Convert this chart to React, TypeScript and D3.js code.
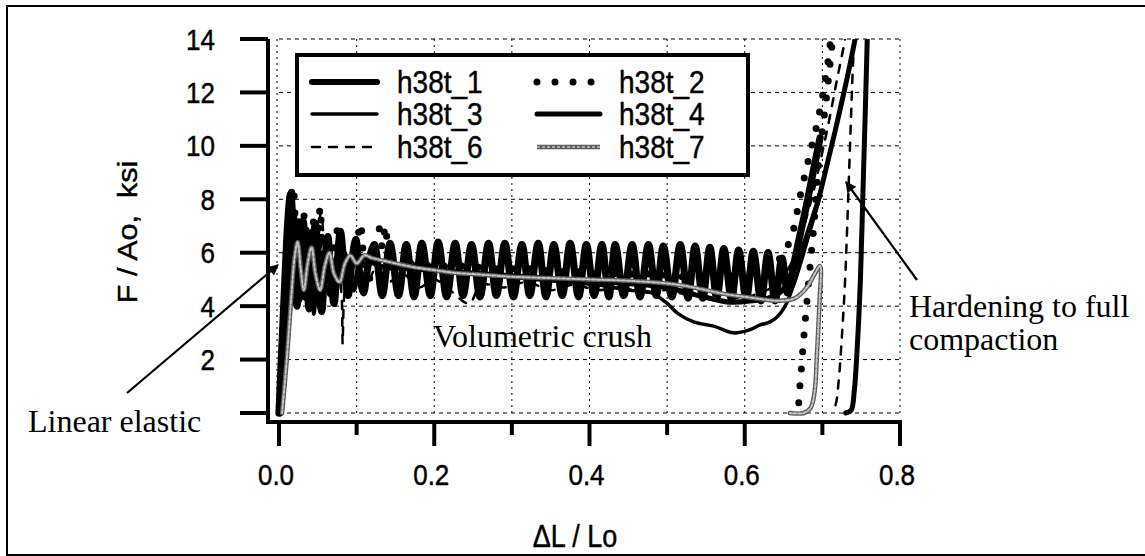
import React from 'react';
import * as d3 from 'd3';

const W = 1145;
const H = 556;

// axis ticks
const yTicks = [0, 2, 4, 6, 8, 10, 12, 14];
const xTicks = [0, 0.1, 0.2, 0.3, 0.4, 0.5, 0.6, 0.7, 0.8];
const xMajor = [0, 0.2, 0.4, 0.6, 0.8];

// F/Ao (ksi) vs dL/Lo
const h38t_1: [number, number][] = [
  [0.000, 0.0], [0.003, 2.0], [0.007, 4.6], [0.011, 7.0], [0.015, 8.2], [0.019, 6.4], [0.023, 4.0],
  [0.027, 5.6], [0.031, 7.2], [0.035, 5.4], [0.039, 3.9], [0.043, 5.8], [0.047, 7.1], [0.051, 5.2],
  [0.055, 3.8], [0.059, 5.5], [0.063, 6.6], [0.067, 5.0], [0.071, 4.1], [0.075, 5.6], [0.079, 6.8],
  [0.084, 5.4], [0.089, 4.4], [0.094, 5.7], [0.099, 6.5], [0.104, 5.2], [0.109, 4.5], [0.114, 5.4],
  [0.123, 6.3], [0.133, 4.4], [0.143, 6.35], [0.154, 4.4], [0.164, 6.3], [0.174, 4.35], [0.184, 6.35],
  [0.195, 4.4], [0.205, 6.4], [0.216, 4.35], [0.227, 6.35], [0.237, 4.4], [0.248, 6.3], [0.259, 4.35],
  [0.270, 6.35], [0.280, 4.4], [0.291, 6.35], [0.302, 4.35], [0.313, 6.3], [0.323, 4.4], [0.334, 6.35],
  [0.344, 4.35], [0.354, 6.3], [0.365, 4.4], [0.375, 6.35], [0.386, 4.35], [0.396, 6.3], [0.406, 4.4],
  [0.416, 6.3], [0.425, 4.35], [0.433, 6.3], [0.444, 4.4], [0.455, 6.3], [0.465, 4.35], [0.476, 6.3],
  [0.486, 4.4], [0.495, 6.25], [0.506, 4.35], [0.517, 6.3], [0.527, 4.3], [0.536, 6.25], [0.546, 4.3],
  [0.555, 6.2], [0.564, 4.3], [0.573, 6.15], [0.583, 4.25], [0.592, 6.1], [0.602, 4.25], [0.611, 6.05],
  [0.621, 4.2], [0.630, 6.0], [0.639, 4.2], [0.648, 5.8], [0.655, 4.5], [0.662, 5.4], [0.670, 6.5],
  [0.679, 7.7], [0.688, 9.0], [0.697, 10.3],
];

const h38t_2: [number, number][] = [
  [0.001, 0.0], [0.005, 2.2], [0.010, 5.2], [0.014, 7.6], [0.018, 8.5], [0.022, 6.6], [0.026, 4.6],
  [0.029, 6.0], [0.032, 7.4], [0.036, 5.6], [0.040, 4.4], [0.045, 7.3], [0.049, 5.6], [0.053, 7.7],
  [0.058, 5.0], [0.063, 4.5], [0.069, 5.8], [0.077, 7.0], [0.082, 5.4], [0.088, 4.8], [0.095, 5.9],
  [0.101, 6.5], [0.105, 7.1], [0.110, 5.6], [0.116, 5.0], [0.122, 6.2], [0.129, 6.9], [0.133, 6.2],
  [0.137, 7.0], [0.142, 5.8], [0.150, 5.4], [0.170, 5.6], [0.200, 5.5], [0.240, 5.5], [0.280, 5.4],
  [0.320, 5.4], [0.360, 5.3], [0.400, 5.3], [0.440, 5.2], [0.480, 5.2], [0.520, 5.1], [0.560, 5.1],
  [0.600, 5.2], [0.630, 5.4], [0.648, 5.9], [0.660, 6.6], [0.672, 8.2], [0.683, 9.6], [0.693, 10.8],
  [0.701, 12.0], [0.707, 13.1], [0.712, 14.3], [0.716, 15.0], [0.706, 12.0], [0.696, 9.6],
  [0.689, 7.0], [0.682, 4.8], [0.676, 2.8], [0.671, 1.0], [0.668, 0.2], [0.662, 0.0],
];

const h38t_3: [number, number][] = [
  [0.002, 0.0], [0.007, 2.2], [0.012, 4.6], [0.016, 6.6], [0.020, 7.6], [0.024, 6.0], [0.028, 4.2],
  [0.033, 5.8], [0.037, 6.9], [0.041, 5.4], [0.045, 3.7], [0.050, 5.5], [0.056, 6.6], [0.062, 5.2],
  [0.068, 4.6], [0.074, 5.6], [0.080, 6.1], [0.088, 5.2], [0.095, 5.6], [0.105, 5.9], [0.120, 5.6],
  [0.150, 5.4], [0.180, 5.6], [0.210, 5.3], [0.250, 5.2], [0.290, 5.1], [0.330, 5.0], [0.370, 4.9],
  [0.410, 4.8], [0.450, 4.6], [0.480, 4.5], [0.500, 4.1], [0.515, 3.7], [0.535, 3.4], [0.560, 3.25],
  [0.585, 3.0], [0.605, 3.1], [0.620, 3.3], [0.632, 3.4], [0.642, 3.6], [0.652, 4.0], [0.662, 4.7],
  [0.672, 5.6], [0.682, 6.6], [0.690, 7.4], [0.697, 8.1],
];

const h38t_4: [number, number][] = [
  [0.003, 0.0], [0.010, 2.4], [0.016, 4.8], [0.021, 6.6], [0.025, 7.2], [0.029, 5.6], [0.033, 4.3],
  [0.038, 6.2], [0.042, 6.8], [0.047, 5.0], [0.052, 4.0], [0.057, 5.8], [0.062, 6.3], [0.067, 5.1],
  [0.072, 4.3], [0.078, 5.5], [0.084, 6.0], [0.090, 5.0], [0.096, 4.6], [0.103, 5.5], [0.110, 5.8],
  [0.130, 5.5], [0.170, 5.4], [0.220, 5.3], [0.270, 5.2], [0.320, 5.1], [0.370, 5.0], [0.420, 4.9],
  [0.470, 4.8], [0.500, 4.7], [0.540, 4.4], [0.580, 4.15], [0.610, 4.2], [0.630, 4.3], [0.645, 4.5],
  [0.658, 5.0], [0.670, 5.8], [0.683, 6.9], [0.695, 8.0], [0.706, 9.3], [0.716, 10.5], [0.727, 11.9],
  [0.736, 13.1], [0.744, 14.3], [0.750, 15.5], [0.759, 15.5], [0.758, 14.2], [0.755, 11.0],
  [0.752, 8.0], [0.749, 5.0], [0.745, 2.5], [0.741, 0.8], [0.737, 0.1], [0.730, 0.0],
];

const h38t_6: [number, number][] = [
  [0.000, 0.0], [0.004, 2.0], [0.009, 4.5], [0.013, 6.4], [0.017, 7.8], [0.021, 6.2], [0.025, 4.4],
  [0.030, 6.3], [0.034, 7.0], [0.039, 5.0], [0.044, 4.2], [0.049, 6.0], [0.054, 7.5], [0.059, 6.0],
  [0.064, 4.4], [0.070, 5.6], [0.075, 6.4], [0.079, 5.0], [0.081, 4.2], [0.082, 2.6], [0.084, 4.4],
  [0.090, 5.6], [0.097, 6.2], [0.104, 5.3], [0.112, 4.8], [0.125, 5.4], [0.140, 4.9], [0.160, 5.2],
  [0.180, 4.7], [0.200, 5.0], [0.220, 4.6], [0.245, 4.1], [0.260, 4.8], [0.290, 4.7], [0.320, 4.9],
  [0.350, 4.6], [0.380, 4.8], [0.410, 4.6], [0.440, 4.7], [0.470, 4.5], [0.500, 4.6], [0.530, 4.4],
  [0.560, 4.5], [0.590, 4.3], [0.620, 4.5], [0.640, 4.8], [0.658, 5.5], [0.672, 6.6], [0.686, 8.0],
  [0.698, 9.5], [0.709, 11.0], [0.719, 12.5], [0.728, 13.8], [0.734, 14.8], [0.740, 15.2],
  [0.741, 14.5], [0.738, 12.0], [0.735, 9.5], [0.732, 7.0], [0.729, 4.8], [0.725, 2.8], [0.721, 1.2],
  [0.717, 0.3], [0.712, 0.0],
];

const h38t_7: [number, number][] = [
  [0.004, 0.0], [0.010, 2.0], [0.016, 4.4], [0.020, 5.8], [0.024, 6.4], [0.028, 5.4], [0.032, 4.6],
  [0.037, 5.6], [0.042, 6.2], [0.047, 5.2], [0.053, 4.6], [0.059, 5.5], [0.065, 6.0], [0.071, 5.2],
  [0.078, 4.9], [0.085, 5.6], [0.092, 5.9], [0.100, 5.6], [0.110, 5.9], [0.120, 5.8], [0.135, 5.7],
  [0.150, 5.6], [0.175, 5.45], [0.200, 5.35], [0.225, 5.25], [0.250, 5.2], [0.275, 5.15], [0.300, 5.1],
  [0.350, 5.05], [0.400, 5.0], [0.450, 4.95], [0.500, 4.85], [0.525, 4.75], [0.550, 4.6], [0.575, 4.45],
  [0.600, 4.35], [0.625, 4.25], [0.645, 4.2], [0.665, 4.3], [0.680, 4.7], [0.690, 5.2], [0.697, 5.5],
  [0.696, 4.0], [0.693, 2.2], [0.690, 0.8], [0.685, 0.2], [0.676, 0.0], [0.658, 0.0],
];

const sans = '"Liberation Sans", Arial, sans-serif';
const serif = '"Liberation Serif", "Times New Roman", serif';
const stretch = 1.13; // sans text in the scan is a little taller than wide

type LineStyle = { width: number; plotWidth?: number; dash?: string; cap?: 'round' | 'butt'; gray?: boolean };

const styles: Record<string, LineStyle> = {
  h38t_1: { width: 6, plotWidth: 7.2 },
  h38t_2: { width: 7, dash: '0 17', cap: 'round' },
  h38t_3: { width: 3.5 },
  h38t_4: { width: 5 },
  h38t_6: { width: 2.5, dash: '8 9' },
  h38t_7: { width: 4.5, gray: true },
};

const x = d3.scaleLinear().domain([0, 0.8]).range([279, 900]);
const y = d3.scaleLinear().domain([0, 14]).range([413, 39]);

const osc = d3.line<[number, number]>().x(d => x(d[0])).y(d => y(d[1])).curve(d3.curveMonotoneX);
const smooth = d3.line<[number, number]>().x(d => x(d[0])).y(d => y(d[1])).curve(d3.curveCatmullRom.alpha(0.5));

function Series({ name, data, gen }: { name: string; data: [number, number][]; gen: typeof osc }) {
  const s = styles[name];
  const d = gen(data) || '';
  if (s.gray) {
    return (
      <g fill="none" strokeLinejoin="round" strokeLinecap="round">
        <path d={d} stroke="#5a5a5a" strokeWidth={s.width} />
        <path d={d} stroke="#c4c4c4" strokeWidth={2} strokeDasharray="3 2" />
      </g>
    );
  }
  return (
    <path d={d} fill="none" stroke="#000" strokeWidth={s.plotWidth || s.width}
      strokeDasharray={s.dash} strokeLinecap={s.cap || 'round'} strokeLinejoin="round" />
  );
}

function LegendSample({ name, x1, x2, yy }: { name: string; x1: number; x2: number; yy: number }) {
  const s = styles[name];
  if (s.gray) {
    return (
      <g>
        <line x1={x1} x2={x2} y1={yy} y2={yy} stroke="#5a5a5a" strokeWidth={s.width} />
        <line x1={x1} x2={x2} y1={yy} y2={yy} stroke="#c4c4c4" strokeWidth={1.5} strokeDasharray="3 2" />
      </g>
    );
  }
  return <line x1={x1} x2={x2} y1={yy} y2={yy} stroke="#000" strokeWidth={s.width}
    strokeDasharray={s.dash === '0 17' ? '0 18' : s.dash} strokeLinecap={s.cap || 'round'} />;
}

// sans text, stretched vertically like the scanned original
function SText({ x: tx, y: ty, anchor, size, children, dy }:
  { x: number; y: number; anchor?: string; size: number; children: React.ReactNode; dy?: string }) {
  return (
    <text transform={`translate(${tx},${ty}) scale(1,${stretch})`} textAnchor={anchor} dy={dy}
      fontFamily={sans} fontSize={size} fill="#000" stroke="#000" strokeWidth={0.4}>{children}</text>
  );
}

const legendCols = [['h38t_1', 'h38t_3', 'h38t_6'], ['h38t_2', 'h38t_4', 'h38t_7']];
const legendRows = [82, 114, 147];

export default function App() {
  const x0 = x(0), x1 = x(0.8), yTop = y(14), yBot = y(0);
  const axisX = 268, axisY = 422;

  return (
    <svg width={W} height={H} style={{ position: 'absolute', left: 0, top: 0, background: '#fff' }}>
      <defs>
        <clipPath id="plot">
          <rect x={x0 - 10} y={yTop} width={x1 - x0 + 10} height={yBot - yTop + 8} />
        </clipPath>
        <marker id="arrow" viewBox="0 0 10 10" refX={9} refY={5} markerWidth={7} markerHeight={5}
          orient="auto" markerUnits="strokeWidth">
          <path d="M0,0 L10,5 L0,10 z" fill="#000" />
        </marker>
      </defs>

      {/* outer frame */}
      <rect x={7} y={6} width={1160} height={549} fill="none" stroke="#000" strokeWidth={2} />

      {/* grid */}
      <g stroke="#000" strokeWidth={1}>
        {yTicks.map(t => (
          <line key={'gy' + t} x1={x0} x2={x1} y1={y(t)} y2={y(t)} strokeDasharray="4 4" />
        ))}
        {xTicks.map(t => (
          <line key={'gx' + t} x1={x(t) - (t === 0 ? 2 : 0)} x2={x(t) - (t === 0 ? 2 : 0)} y1={yTop} y2={yBot}
            strokeDasharray="2 4" />
        ))}
      </g>

      {/* data */}
      <g clipPath="url(#plot)">
        <Series name="h38t_6" data={h38t_6} gen={smooth} />
        <Series name="h38t_3" data={h38t_3} gen={smooth} />
        <Series name="h38t_4" data={h38t_4} gen={smooth} />
        <Series name="h38t_1" data={h38t_1} gen={osc} />
        <Series name="h38t_2" data={h38t_2} gen={smooth} />
        <Series name="h38t_7" data={h38t_7} gen={smooth} />
      </g>

      {/* axes */}
      <g stroke="#000" strokeWidth={4}>
        <line x1={axisX} x2={axisX} y1={yTop} y2={axisY + 2} />
        <line x1={axisX - 2} x2={x1 + 2} y1={axisY} y2={axisY} />
        {yTicks.map(t => (
          <line key={'ty' + t} x1={axisX - 28} x2={axisX} y1={y(t)} y2={y(t)} />
        ))}
        {xTicks.map(t => (
          <line key={'tx' + t} x1={x(t)} x2={x(t)} y1={axisY}
            y2={axisY + (xMajor.includes(t) ? 24 : 13)} />
        ))}
      </g>
      {yTicks.filter(t => t > 0).map(t => (
        <SText key={'ly' + t} x={215} y={y(t)} dy="0.36em" anchor="end" size={26}>{t}</SText>
      ))}
      {xMajor.map(t => (
        <SText key={'lx' + t} x={x(t) - 3} y={485} anchor="middle" size={26}>{t.toFixed(1)}</SText>
      ))}
      <text transform={`translate(137,232) rotate(-90) scale(${stretch},1)`} textAnchor="middle"
        fontFamily={sans} fontSize={27} stroke="#000" strokeWidth={0.4}
        style={{ whiteSpace: 'pre' }}>{'F / Ao,  ksi'}</text>
      <SText x={575} y={547} anchor="middle" size={27}>ΔL / Lo</SText>

      {/* legend */}
      <rect x={297} y={55} width={451} height={120} fill="#fff" stroke="#000" strokeWidth={4} />
      {legendCols.map((col, ci) => col.map((name, ri) => (
        <g key={name}>
          <LegendSample name={name} x1={ci === 0 ? 312 : 537} x2={ci === 0 ? 377 : 600} yy={legendRows[ri]} />
          <SText x={ci === 0 ? 397 : 619} y={legendRows[ri]} dy="0.36em" size={28}>{name}</SText>
        </g>
      )))}

      {/* annotations */}
      <g fontFamily={serif} fontSize={32} fill="#000">
        <text x={28} y={432}>Linear elastic</text>
        <text x={433} y={347}>Volumetric crush</text>
        <text x={909} y={317}>Hardening to full</text>
        <text x={909} y={350}>compaction</text>
      </g>
      <g stroke="#000" strokeWidth={2.2}>
        <line x1={127} y1={393} x2={278} y2={265} markerEnd="url(#arrow)" />
        <line x1={917} y1={280} x2={846} y2={182} markerEnd="url(#arrow)" />
      </g>
    </svg>
  );
}
